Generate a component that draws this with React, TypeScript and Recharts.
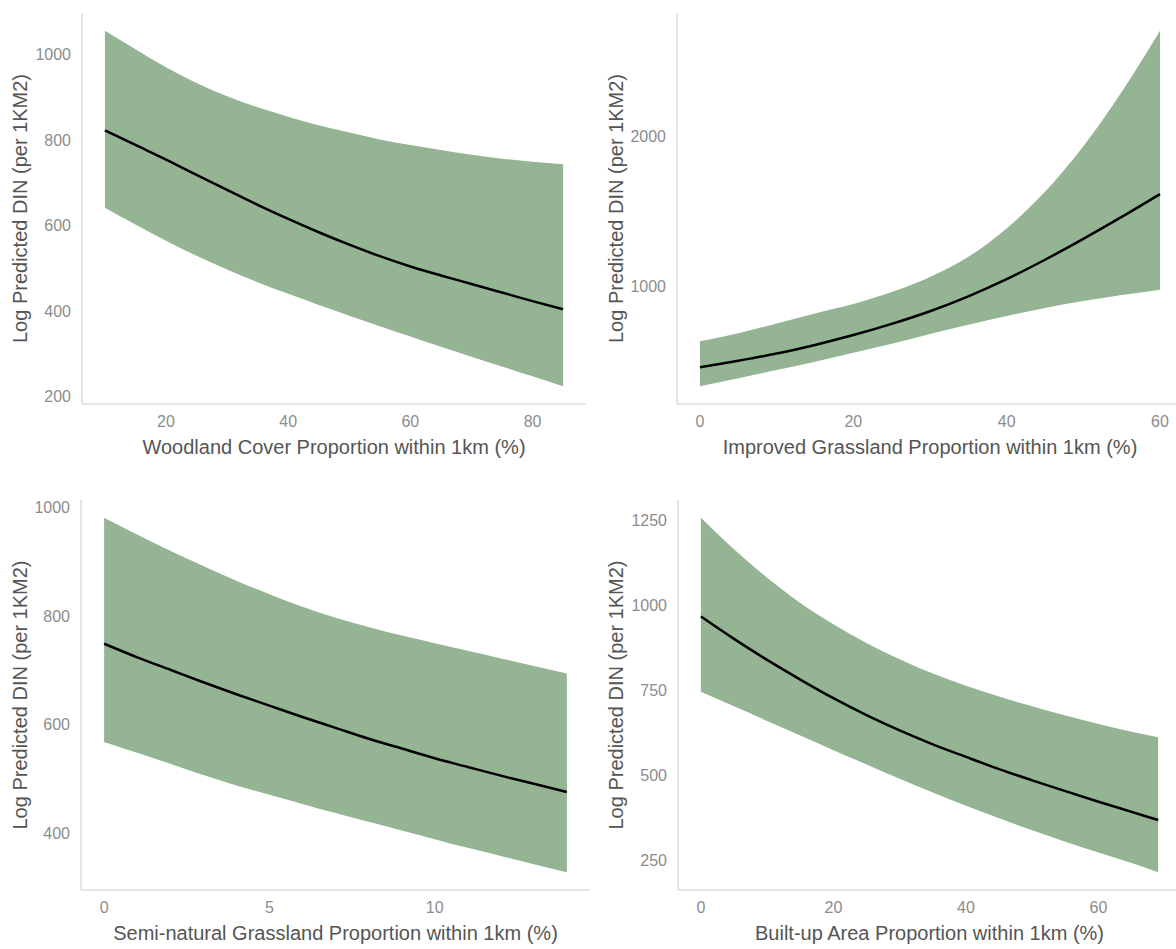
import React from "react";
import { ComposedChart, Area, Line, XAxis, YAxis } from "recharts";

// Woodland cover (top left)
const woodX = [10, 15, 20, 25, 30, 35, 40, 45, 50, 55, 60, 65, 70, 75, 80, 85];
const woodFit = [822, 788, 754, 718, 683, 648, 615, 584, 555, 528, 504, 483, 463, 443, 423, 404];
const woodLow = [641, 602, 564, 529, 497, 467, 440, 414, 389, 364, 340, 316, 293, 270, 247, 224];
const woodHigh = [1055, 1012, 970, 933, 902, 876, 854, 834, 817, 801, 788, 776, 765, 756, 749, 743];

// Improved grassland (top right)
const grassX = [0, 5, 10, 15, 20, 25, 30, 35, 40, 45, 50, 55, 60];
const grassFit = [455, 498, 546, 604, 670, 745, 830, 930, 1045, 1175, 1315, 1462, 1615];
const grassLow = [327, 381, 436, 492, 552, 612, 678, 740, 798, 852, 898, 938, 974];
const grassHigh = [629, 683, 747, 815, 878, 958, 1060, 1195, 1385, 1630, 1935, 2300, 2710];

// Semi-natural grassland (bottom left)
const semiX = [0, 1, 2, 3, 4, 5, 6, 7, 8, 9, 10, 11, 12, 13, 14];
const semiFit = [749, 724, 701, 678, 656, 635, 614, 594, 574, 556, 538, 522, 506, 491, 476];
const semiLow = [568, 548, 528, 507, 488, 471, 454, 437, 421, 405, 389, 373, 358, 343, 328];
const semiHigh = [981, 950, 920, 892, 865, 840, 817, 797, 780, 764, 750, 736, 722, 708, 694];

// Built-up area (bottom right)
const builtX = [0, 5, 10, 15, 20, 25, 30, 35, 40, 45, 50, 55, 60, 65, 69];
const builtFit = [968, 902, 840, 782, 727, 677, 632, 591, 554, 518, 485, 453, 422, 392, 368];
const builtLow = [746, 703, 660, 617, 574, 532, 490, 449, 410, 373, 338, 304, 272, 241, 214];
const builtHigh = [1259, 1166, 1082, 1008, 945, 890, 842, 800, 764, 732, 703, 676, 651, 628, 612];

const Y_TITLE = "Log Predicted DIN (per 1KM2)";
const FONT = "'Liberation Sans', Arial, sans-serif";
const BAND = "#94b494";
const AXIS = "#cccccc";
const TICK = "#8c8c8c";
const TITLE = "#555555";

const rows = (xs: number[], fit: number[], lo: number[], hi: number[]) =>
  xs.map((x, i) => ({ x, fit: fit[i], band: [lo[i], hi[i]] }));

function Panel(props: any) {
  const { left, top, width, height, margin, yWidth, data, xDomain, yDomain, xTicks, yTicks, xTitle, yTitleX } = props;

  const yLabel = (p: any) => {
    const vb = p.viewBox;
    const cy = vb.y + vb.height / 2;
    return (
      <text x={yTitleX} y={cy} dy="0.355em" textAnchor="middle" transform={`rotate(-90 ${yTitleX} ${cy})`}
        fill={TITLE} fontSize={20} fontFamily={FONT}>
        {Y_TITLE}
      </text>
    );
  };
  const xLabel = (p: any) => {
    const vb = p.viewBox;
    return (
      <text x={vb.x + vb.width / 2} y={vb.y + 42.5} dy="0.355em" textAnchor="middle"
        fill={TITLE} fontSize={20} fontFamily={FONT}>
        {xTitle}
      </text>
    );
  };

  return (
    <div style={{ position: "absolute", left, top }}>
      <ComposedChart width={width} height={height} data={data} margin={margin}>
        <XAxis type="number" dataKey="x" domain={xDomain} ticks={xTicks} allowDataOverflow height={50}
          tickLine={false} axisLine={{ stroke: AXIS }} tickMargin={6}
          tick={{ fill: TICK, fontSize: 16, fontFamily: FONT }} label={xLabel} />
        <YAxis type="number" domain={yDomain} ticks={yTicks} allowDataOverflow width={yWidth}
          tickLine={false} axisLine={{ stroke: AXIS }} tickMargin={5}
          tick={{ fill: TICK, fontSize: 16, fontFamily: FONT }} label={yLabel} />
        <Area type="monotone" dataKey="band" fill={BAND} fillOpacity={1} stroke="none"
          isAnimationActive={false} activeDot={false} />
        <Line type="monotone" dataKey="fit" stroke="#000000" strokeWidth={2.5} dot={false}
          activeDot={false} isAnimationActive={false} />
      </ComposedChart>
    </div>
  );
}

export default function App() {
  return (
    <div style={{ position: "absolute", left: 0, top: 0, width: 1176, height: 949, overflow: "hidden", background: "#ffffff" }}>
      <Panel left={0} top={0} width={590} height={475} margin={{ top: 13, right: 4, bottom: 21, left: 0 }} yWidth={82}
        data={rows(woodX, woodFit, woodLow, woodHigh)} xDomain={[6.25, 88.75]} yDomain={[182.4, 1096.6]}
        xTicks={[20, 40, 60, 80]} yTicks={[200, 400, 600, 800, 1000]}
        xTitle="Woodland Cover Proportion within 1km (%)" yTitleX={20} />
      <Panel left={590} top={0} width={600} height={475} margin={{ top: 13, right: 7, bottom: 21, left: 0 }} yWidth={87}
        data={rows(grassX, grassFit, grassLow, grassHigh)} xDomain={[-3, 63]} yDomain={[208, 2829]}
        xTicks={[0, 20, 40, 60]} yTicks={[1000, 2000]}
        xTitle="Improved Grassland Proportion within 1km (%)" yTitleX={26} />
      <Panel left={0} top={480} width={594} height={469} margin={{ top: 20, right: 4, bottom: 9, left: 0 }} yWidth={81}
        data={rows(semiX, semiFit, semiLow, semiHigh)} xDomain={[-0.7, 14.7]} yDomain={[295.4, 1013.7]}
        xTicks={[0, 5, 10]} yTicks={[400, 600, 800, 1000]}
        xTitle="Semi-natural Grassland Proportion within 1km (%)" yTitleX={20} />
      <Panel left={590} top={480} width={600} height={469} margin={{ top: 20, right: 9, bottom: 9, left: 0 }} yWidth={88}
        data={rows(builtX, builtFit, builtLow, builtHigh)} xDomain={[-3.45, 72.45]} yDomain={[161.75, 1311.25]}
        xTicks={[0, 20, 40, 60]} yTicks={[250, 500, 750, 1000, 1250]}
        xTitle="Built-up Area Proportion within 1km (%)" yTitleX={26} />
    </div>
  );
}
